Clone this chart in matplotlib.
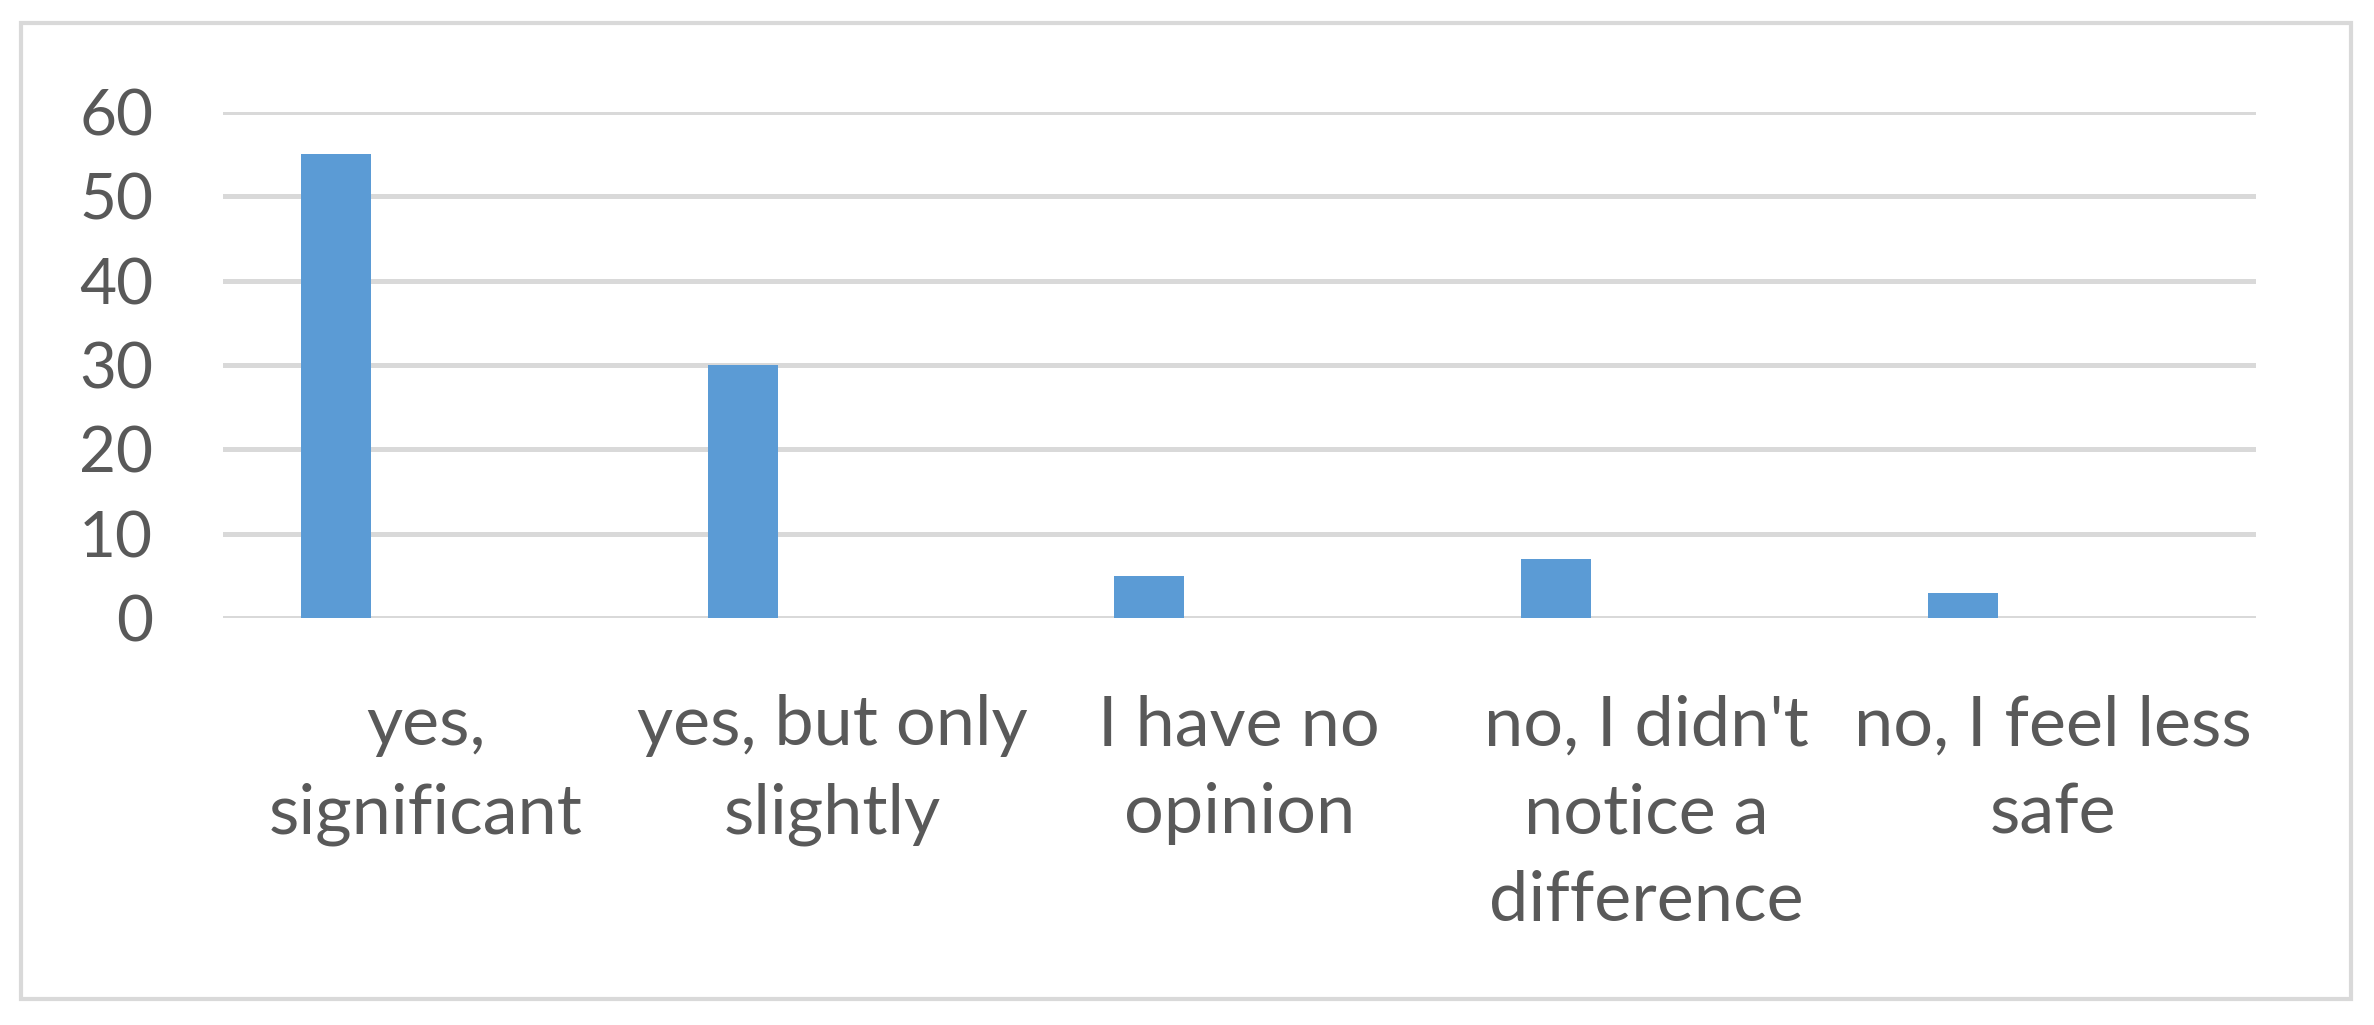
import matplotlib
matplotlib.use("Agg")
import matplotlib.pyplot as plt
import numpy as np
from matplotlib.patches import Rectangle

categories = [
    "yes,\nsignificant",
    "yes, but only\nslightly",
    "I have no\nopinion",
    "no, I didn't\nnotice a\ndifference",
    "no, I feel less\nsafe",
]
values = [55, 30, 5, 7, 3]
y_ticks = [0, 10, 20, 30, 40, 50, 60]

BAR_COLOR = "#5B9BD5"
GRID_COLOR = "#D9D9D9"
TEXT_COLOR = "#595959"

plt.rcParams["font.family"] = ["Lato", "DejaVu Sans"]

fig = plt.figure(figsize=(23.74, 10.25), dpi=100)
fig.patches.append(Rectangle((21 / 2374, 1 - 999 / 1025), 2330 / 2374, 976 / 1025,
                             transform=fig.transFigure, fill=False,
                             edgecolor=GRID_COLOR, linewidth=3))

ax = fig.add_axes([222.6 / 2374, 1 - 618 / 1025, (2256 - 222.6) / 2374, (618 - 112) / 1025])
x = np.arange(len(categories))
ax.bar(x - 0.221, values, width=0.172, color=BAR_COLOR, zorder=3)

ax.set_xlim(-0.5, len(categories) - 0.5)
ax.set_ylim(0, 60)
ax.set_yticks(y_ticks)
ax.set_xticks(x, categories)
for label in ax.get_xticklabels():
    label.set_linespacing(1.49)
ax.tick_params(axis="both", length=0, colors=TEXT_COLOR)
ax.tick_params(axis="y", pad=50, labelsize=46)
ax.tick_params(axis="x", pad=55, labelsize=50.5)
ax.grid(axis="y", color=GRID_COLOR, linewidth=3.6, zorder=0)
ax.set_axisbelow(True)
for spine in ax.spines.values():
    spine.set_visible(False)

fig.savefig("out.png", dpi=100)
